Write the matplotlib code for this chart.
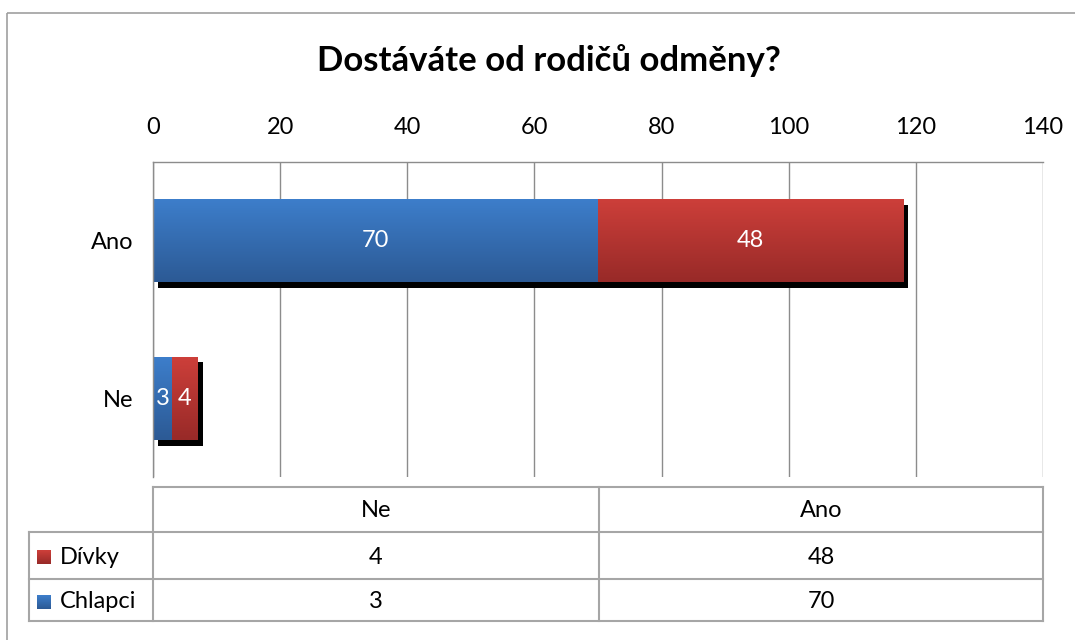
import numpy as np
import matplotlib
matplotlib.use("Agg")
import matplotlib.pyplot as plt
from matplotlib.colors import LinearSegmentedColormap
from matplotlib.patches import Rectangle
import matplotlib.patheffects as pe

plt.rcParams['font.family'] = ['Lato', 'DejaVu Sans']

# ---- data ----
title = "Dostáváte od rodičů odměny?"
categories = ["Ano", "Ne"]          # top to bottom
series_names = ["Chlapci", "Dívky"]
chlapci = [70, 3]
divky = [48, 4]
xticks = [0, 20, 40, 60, 80, 100, 120, 140]
table_cols = ["Ne", "Ano"]
table_rows = ["Dívky", "Chlapci"]
table_vals = {"Dívky": [4, 48], "Chlapci": [3, 70]}

blue_grad = ["#3D7ECB", "#2C5A95"]
red_grad = ["#CD3F3A", "#982A28"]
grid_col = "#8C8C8C"
tab_col = "#A6A6A6"
FS = 17

W, H = 1075, 640
fig = plt.figure(figsize=(W / 100, H / 100), dpi=100)

def px_rect(x0, y0, x1, y1):
    return [x0 / W, 1 - y1 / H, (x1 - x0) / W, (y1 - y0) / H]

PL, PR, PT, PB = 153, 1043, 162, 477
ax = fig.add_axes(px_rect(PL, PT, PR, PB))

y = np.arange(len(categories))
bh = 0.53
shadow = [pe.SimplePatchShadow(offset=(3.8, -4.0), shadow_rgbFace='black', alpha=1.0), pe.Normal()]

def grad_fill(a, patch, cols):
    x0, y0 = patch.get_x(), patch.get_y()
    w, h = patch.get_width(), patch.get_height()
    cmap = LinearSegmentedColormap.from_list('g', cols)
    im = a.imshow(np.linspace(0, 1, 64).reshape(-1, 1), cmap=cmap,
                  extent=[x0, x0 + w, y0 + h, y0], aspect='auto',
                  origin='upper', zorder=patch.get_zorder() + 0.1, interpolation='bilinear')
    im.set_clip_path(patch)

b1 = ax.barh(y, chlapci, height=bh, color=blue_grad[0], zorder=2)
b2 = ax.barh(y, divky, left=chlapci, height=bh, color=red_grad[0], zorder=2)
for bars, cols, vals, lefts in [(b1, blue_grad, chlapci, [0, 0]), (b2, red_grad, divky, chlapci)]:
    for p, v, l in zip(bars, vals, lefts):
        p.set_path_effects(shadow)
        grad_fill(ax, p, cols)
        ax.text(l + v / 2, p.get_y() + p.get_height() / 2, str(v), color='white',
                ha='center', va='center', fontsize=FS, zorder=5)

ax.set_xlim(0, 140)
ax.set_ylim(len(categories) - 0.5, -0.5)
ax.set_xticks(xticks)
ax.xaxis.tick_top()
ax.tick_params(axis='x', length=0, pad=17, labelsize=FS, colors='black')
ax.set_yticks(y)
ax.set_yticklabels(categories)
ax.tick_params(axis='y', length=0, pad=14, labelsize=FS)
ax.grid(axis='x', color=grid_col, lw=1)
ax.set_axisbelow(True)
for s in ['right', 'bottom']:
    ax.spines[s].set_visible(False)
for s in ['top', 'left']:
    ax.spines[s].set_color(grid_col)
    ax.spines[s].set_linewidth(1)

# ---- overlay: title, table, border ----
ov = fig.add_axes([0, 0, 1, 1], zorder=10)
ov.set_xlim(0, W)
ov.set_ylim(H, 0)
ov.axis('off')
ov.patch.set_alpha(0)

ov.text(549, 61, title, ha='center', va='center', fontsize=25, fontweight='bold')

ov.add_patch(Rectangle((7, 13), W + 20, H + 20, fill=False, ec='#A0A0A0', lw=1.2))

TT, R1, R2, TB = 487, 532, 579, 621
LX = 29
MX = (PL + PR) / 2 + 1
lk = dict(color=tab_col, lw=1.5)
# header row
ov.plot([PL, PR], [TT, TT], **lk)
ov.plot([LX, PR], [R1, R1], **lk)
ov.plot([LX, PR], [R2, R2], **lk)
ov.plot([LX, PR], [TB, TB], **lk)
ov.plot([PL, PL], [TT, TB], **lk)
ov.plot([MX, MX], [TT, TB], **lk)
ov.plot([PR, PR], [TT, TB], **lk)
ov.plot([LX, LX], [R1, TB], **lk)

col_centers = [(PL + MX) / 2, (MX + PR) / 2]
for c, cx in zip(table_cols, col_centers):
    ov.text(cx, (TT + R1) / 2 + 1, c, ha='center', va='center', fontsize=FS)
leg_cols = {"Dívky": red_grad, "Chlapci": blue_grad}
for r, (ya, yb) in zip(table_rows, [(R1, R2), (R2, TB)]):
    yc = (ya + yb) / 2 + 2
    for v, cx in zip(table_vals[r], col_centers):
        ov.text(cx, yc, str(v), ha='center', va='center', fontsize=FS)
    cmap = LinearSegmentedColormap.from_list('l', leg_cols[r])
    ov.imshow(np.linspace(0, 1, 32).reshape(-1, 1), cmap=cmap,
              extent=[37, 51, yc + 7, yc - 7], aspect='auto', origin='upper', zorder=3)
    ov.text(60, yc, r, ha='left', va='center', fontsize=FS)

ov.set_xlim(0, W)
ov.set_ylim(H, 0)

fig.savefig("out.png", dpi=100)
